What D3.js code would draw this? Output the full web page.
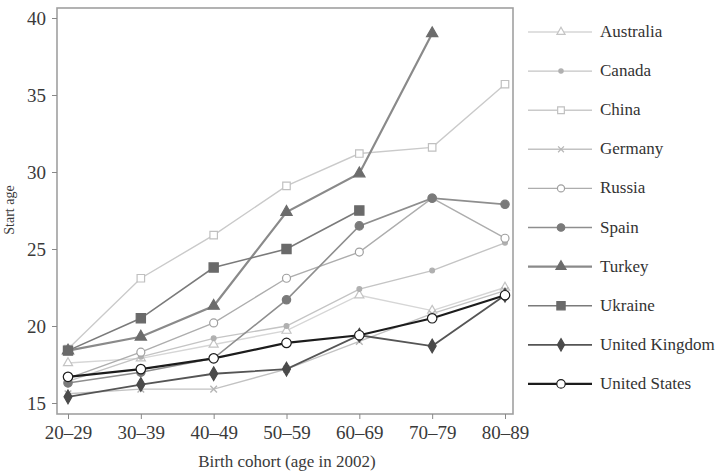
<!DOCTYPE html>
<html lang="en">
<head>
  <meta charset="UTF-8" />
  <title>Start age by birth cohort</title>
  <script src="https://d3js.org/d3.v7.min.js"></script>
  <style>
    body { margin:0; padding:0; background:#fff; }
    svg { display:block; font-family:"Liberation Serif", "DejaVu Serif", serif; }
  </style>
</head>
<body>
  <svg width="724" height="476"></svg>

  <script>
  // cohorts on the x axis
  const cohorts = ["20–29", "30–39", "40–49", "50–59", "60–69", "70–79", "80–89"];
  const yTicks = [15, 20, 25, 30, 35, 40];

  // start age per country (null = no point)
  const australia = [17.6, 17.9, 18.8, 19.7, 22.0, 21.0, 22.5];
  const canada    = [16.4, 18.0, 19.2, 20.0, 22.4, 23.6, 25.4];
  const china     = [18.5, 23.1, 25.9, 29.1, 31.2, 31.6, 35.7];
  const germany   = [15.6, 15.9, 15.9, 17.2, 19.0, 20.8, 22.3];
  const russia    = [16.6, 18.3, 20.2, 23.1, 24.8, 28.3, 25.7];
  const spain     = [16.3, 17.0, 17.9, 21.7, 26.5, 28.3, 27.9];
  const turkey    = [18.4, 19.3, 21.3, 27.4, 29.9, 39.0, null];
  const ukraine   = [18.4, 20.5, 23.8, 25.0, 27.5, null, null];
  const uk        = [15.4, 16.2, 16.9, 17.2, 19.4, 18.7, 22.0];
  const us        = [16.7, 17.2, 17.9, 18.9, 19.4, 20.5, 22.0];

  const series = [
    { name:"Australia",      values:australia, line:"#d6d6d6", lw:1.4, sym:"triangle", fill:"#fff",    stroke:"#c4c4c4", size:36 },
    { name:"Canada",         values:canada,    line:"#c4c4c4", lw:1.4, sym:"circle",   fill:"#b0b0b0", stroke:"#b0b0b0", size:18 },
    { name:"China",          values:china,     line:"#cacaca", lw:1.4, sym:"square",   fill:"#fff",    stroke:"#c0c0c0", size:56 },
    { name:"Germany",        values:germany,   line:"#c2c2c2", lw:1.4, sym:"cross",    fill:"none",    stroke:"#b6b6b6", size:30 },
    { name:"Russia",         values:russia,    line:"#adadad", lw:1.4, sym:"circle",   fill:"#fff",    stroke:"#a0a0a0", size:50 },
    { name:"Spain",          values:spain,     line:"#8e8e8e", lw:1.6, sym:"circle",   fill:"#7a7a7a", stroke:"#7a7a7a", size:55 },
    { name:"Turkey",         values:turkey,    line:"#8a8a8a", lw:2.2, sym:"triangle", fill:"#6c6c6c", stroke:"#6c6c6c", size:55 },
    { name:"Ukraine",        values:ukraine,   line:"#7a7a7a", lw:1.6, sym:"square",   fill:"#6a6a6a", stroke:"#6a6a6a", size:85 },
    { name:"United Kingdom", values:uk,        line:"#555",    lw:1.8, sym:"diamond",  fill:"#4a4a4a", stroke:"#4a4a4a", size:55 },
    { name:"United States",  values:us,        line:"#1c1c1c", lw:2.2, sym:"circle",   fill:"#fff",    stroke:"#1c1c1c", size:70 }
  ];

  const symbols = {
    triangle: d3.symbolTriangle,
    circle:   d3.symbolCircle,
    square:   d3.symbolSquare,
    cross:    d3.symbolTimes,
    diamond:  d3.symbolDiamond
  };

  const svg = d3.select("svg");
  const frame = { left:57, right:513, top:8, bottom:414 };

  const x = d3.scalePoint().domain(cohorts).range([68, 505]);
  const y = d3.scaleLinear().domain([15, 40]).range([403, 18]);

  // plot frame
  svg.append("rect")
    .attr("x", frame.left).attr("y", frame.top)
    .attr("width", frame.right - frame.left)
    .attr("height", frame.bottom - frame.top)
    .attr("fill", "none").attr("stroke", "#a0a0a0").attr("stroke-width", 1.6);

  // axes
  const yAxis = svg.append("g")
    .attr("transform", `translate(${frame.left},0)`)
    .call(d3.axisLeft(y).tickValues(yTicks).tickSize(5).tickPadding(6));
  yAxis.select(".domain").remove();
  yAxis.selectAll("line").attr("stroke", "#888");
  yAxis.selectAll("text").attr("font-size", 19).attr("font-family", "Liberation Serif").attr("fill", "#3a3a3a");

  const xAxis = svg.append("g")
    .attr("transform", `translate(0,${frame.bottom})`)
    .call(d3.axisBottom(x).tickSize(5).tickPadding(7));
  xAxis.select(".domain").remove();
  xAxis.selectAll("line").attr("stroke", "#888");
  xAxis.selectAll("text").attr("font-size", 19).attr("font-family", "Liberation Serif").attr("fill", "#3a3a3a");

  // axis titles
  svg.append("text")
    .attr("x", 287).attr("y", 467)
    .attr("text-anchor", "middle")
    .attr("font-size", 17).attr("fill", "#3a3a3a")
    .text("Birth cohort (age in 2002)");

  svg.append("text")
    .attr("transform", "translate(14,210) rotate(-90)")
    .attr("text-anchor", "middle")
    .attr("font-size", 14).attr("fill", "#3a3a3a")
    .text("Start age");

  // lines + markers
  const line = d3.line()
    .defined(d => d != null)
    .x((d, i) => x(cohorts[i]))
    .y(d => y(d));

  const g = svg.append("g");
  series.forEach(s => {
    g.append("path")
      .attr("d", line(s.values))
      .attr("fill", "none")
      .attr("stroke", s.line)
      .attr("stroke-width", s.lw);
  });
  series.forEach(s => {
    g.selectAll(null)
      .data(s.values.map((v, i) => ({ v, c: cohorts[i] })).filter(d => d.v != null))
      .enter().append("path")
      .attr("d", d3.symbol().type(symbols[s.sym]).size(s.size))
      .attr("transform", d => `translate(${x(d.c)},${y(d.v)})`)
      .attr("fill", s.fill)
      .attr("stroke", s.stroke)
      .attr("stroke-width", s.sym === "cross" ? 1.4 : 1.2);
  });

  // legend
  const legend = svg.append("g");
  series.forEach((s, i) => {
    const ly = 32 + i * 39.1;
    legend.append("line")
      .attr("x1", 528).attr("x2", 592)
      .attr("y1", ly).attr("y2", ly)
      .attr("stroke", s.line).attr("stroke-width", s.lw);
    legend.append("path")
      .attr("d", d3.symbol().type(symbols[s.sym]).size(s.size * 0.8))
      .attr("transform", `translate(561,${ly})`)
      .attr("fill", s.fill)
      .attr("stroke", s.stroke)
      .attr("stroke-width", 1.2);
    legend.append("text")
      .attr("x", 600).attr("y", ly + 5)
      .attr("font-size", 17).attr("fill", "#333")
      .text(s.name);
  });
  </script>
</body>
</html>
